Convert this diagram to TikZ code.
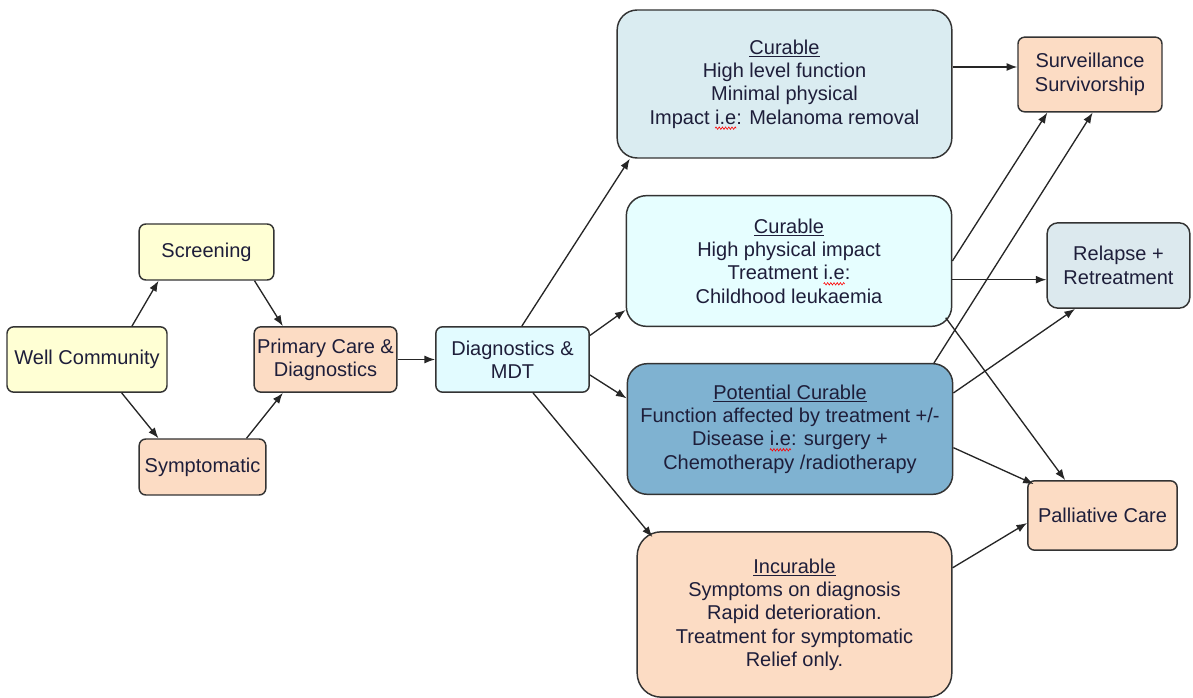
\documentclass[tikz,border=0pt]{standalone}
\usepackage{fontspec}
\setmainfont{Liberation Sans}
\usetikzlibrary{decorations.pathmorphing,arrows.meta}
\definecolor{wellyellow}{HTML}{FFFFD4}
\definecolor{peach}{HTML}{FCDCC4}
\definecolor{mdtcyan}{HTML}{E2FBFF}
\definecolor{curgray}{HTML}{DAECF1}
\definecolor{curcyan}{HTML}{E6FEFF}
\definecolor{potblue}{HTML}{7FB2D1}
\definecolor{relgray}{HTML}{DCE9EE}
\definecolor{boxline}{HTML}{333333}
\definecolor{ink}{HTML}{1E1E3A}
% red wavy spell-check mark under a word
\newsavebox\spellbox
\newlength\spellwd
\newcommand\spellmark[1]{\sbox\spellbox{#1}\setlength\spellwd{\wd\spellbox}%
    \rlap{\tikz[overlay,baseline=0pt,x=1pt,y=1pt,sharp corners]\draw[red,line width=0.45pt,decorate,decoration={zigzag,segment length=2.4pt,amplitude=0.9pt}] (0pt,-3pt) -- (\spellwd,-3pt);}#1}

\begin{document}
\begin{tikzpicture}[x=0.75pt,y=-0.75pt,
    box/.style={draw=boxline,line width=1.1pt,rounded corners=5pt,inner sep=0pt,
        align=center,text=ink,font={\fontsize{15}{17.5}\selectfont}},
    bigbox/.style={box,rounded corners=15pt},
    link/.style={-{Latex[length=8pt,width=6pt]},line width=1pt,draw=black!85}]
    \useasboundingbox (0,0) rectangle (1193,698);
    % left part
    \node[box,fill=wellyellow,minimum width=120pt,minimum height=49pt] (well) at (87,359.5) {Well Community};
    \node[box,fill=wellyellow,minimum width=101pt,minimum height=42pt] (screen) at (206.5,252) {Screening};
    \node[box,fill=peach,minimum width=95pt,minimum height=42pt] (sympt) at (202.5,467) {Symptomatic};
    \node[box,fill=peach,minimum width=107pt,minimum height=49pt] (primary) at (325.5,359.5) {Primary Care \&\\Diagnostics};
    \node[box,fill=mdtcyan,minimum width=115pt,minimum height=49pt] (diag) at (512.5,359.5) {Diagnostics \&\\MDT};
    % outcome groups
    \node[bigbox,fill=curgray,minimum width=251pt,minimum height=111pt] (cur1) at (784.5,84)
        {\underline{Curable}\\High level function\\Minimal physical\\Impact \spellmark{i.e}: Melanoma removal};
    \node[bigbox,fill=curcyan,minimum width=244pt,minimum height=98pt] (cur2) at (789,261)
        {\underline{Curable}\\High physical impact\\Treatment \spellmark{i.e}:\\Childhood leukaemia};
    \node[bigbox,fill=potblue,minimum width=244pt,minimum height=98pt] (potential) at (790,429)
        {\underline{Potential Curable}\\Function affected by treatment +/-\\Disease \spellmark{i.e}: surgery +\\Chemotherapy /radiotherapy};
    \node[box,rounded corners=18pt,fill=peach,minimum width=236pt,minimum height=124pt] (incurable) at (794.5,614.5)
        {\underline{Incurable}\\Symptoms on diagnosis\\Rapid deterioration.\\Treatment for symptomatic\\Relief only.};
    % end points
    \node[box,fill=peach,minimum width=108pt,minimum height=56pt] (surv) at (1090,74.5) {Surveillance\\Survivorship};
    \node[box,rounded corners=8pt,fill=relgray,minimum width=107pt,minimum height=64pt] (relapse) at (1118.5,265.5) {Relapse +\\Retreatment};
    \node[box,fill=peach,minimum width=112pt,minimum height=52pt] (palliative) at (1102.5,515.5) {Palliative Care};
    % connectors
    \draw[link] ([xshift=33.75pt]well.north) -- ([xshift=-36pt]screen.south);
    \draw[link] ([xshift=26pt]well.south) -- ([xshift=-33pt]sympt.north);
    \draw[link] ([xshift=36pt]screen.south) -- ([xshift=-32pt]primary.north);
    \draw[link] ([xshift=33pt]sympt.north) -- ([xshift=-32pt]primary.south);
    \draw[link] (primary.east) -- (diag.west);
    \draw[link] ([xshift=7pt]diag.north) -- ([xshift=-116pt]cur1.south);
    \draw[link] ([yshift=18pt]diag.east) -- ([yshift=-36.75pt]cur2.west);
    \draw[link] ([yshift=-11.6pt]diag.east) -- ([yshift=23pt]potential.west);
    \draw[link] ([xshift=15.4pt]diag.south) -- ([xshift=12pt,yshift=-4.5pt]incurable.north west);
    \draw[link] ([yshift=12.75pt]cur1.east) -- ([yshift=12.75pt]cur1.east -| surv.west);
    \draw[link] (cur2.east) -- ([xshift=-32pt]surv.south);
    \draw[link] ([xshift=108pt]potential.north) -- ([xshift=2pt]surv.south);
    \draw[link] ([yshift=-14pt]cur2.east) -- ([yshift=-14pt]cur2.east -| relapse.west);
    \draw[link] ([xshift=-5pt,yshift=7pt]cur2.south east) -- ([xshift=-28pt]palliative.north);
    \draw[link] ([yshift=27pt]potential.east) -- ([xshift=-32.6pt]relapse.south);
    \draw[link] ([yshift=-14pt]potential.east) -- ([xshift=5pt,yshift=-3pt]palliative.north west);
    \draw[link] ([yshift=35pt]incurable.east) -- ([yshift=-5.6pt]palliative.west);
\end{tikzpicture}
\end{document}
